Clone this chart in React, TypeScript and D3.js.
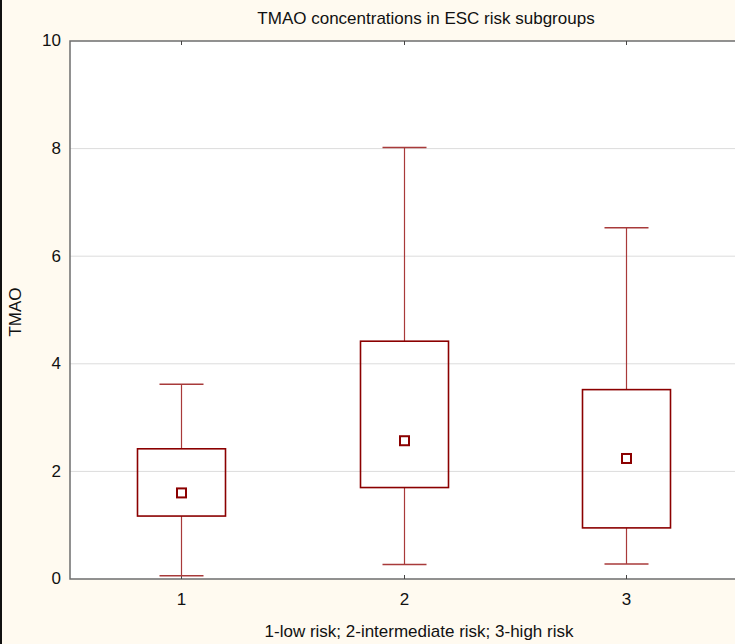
import { useEffect, useRef } from 'react'
import * as d3 from 'd3'

const groups = ['1', '2', '3']
const whiskerLow = [0.06, 0.27, 0.28]
const boxLow = [1.17, 1.7, 0.95]
const centre = [1.6, 2.57, 2.24]
const boxHigh = [2.42, 4.42, 3.52]
const whiskerHigh = [3.62, 8.02, 6.53]
const yTicks = [0, 2, 4, 6, 8, 10]

const W = 735
const H = 644
const FONT = "'Liberation Sans', Arial, sans-serif"
const FS = 17

export default function App() {
  const svgRef = useRef<SVGSVGElement>(null)

  useEffect(() => {
    const svg = d3.select(svgRef.current)
    svg.selectAll('*').remove()

    const left = 70
    const top = 41
    const bottom = 579
    const x = d3.scaleLinear().domain([0.5, 3.5]).range([left, 737.5])
    const y = d3.scaleLinear().domain([0, 10]).range([bottom, top])

    svg.append('rect').attr('width', W).attr('height', H).attr('fill', '#fffaf0')
    svg.append('rect').attr('width', 2).attr('height', H).attr('fill', '#111')
    svg.append('rect')
      .attr('x', left).attr('y', top)
      .attr('width', W - left).attr('height', bottom - top)
      .attr('fill', '#fff')

    // grid
    yTicks.filter((t) => t > 0 && t < 10).forEach((t) => {
      svg.append('line')
        .attr('x1', left).attr('x2', W)
        .attr('y1', y(t)).attr('y2', y(t))
        .attr('stroke', '#dcdcdc').attr('stroke-width', 1)
    })

    // axes frame
    svg.append('path')
      .attr('d', `M${W},${top}H${left}V${bottom}H${W}`)
      .attr('fill', 'none').attr('stroke', '#6e6e6e').attr('stroke-width', 1.5)

    const label = (t: string, px: number, py: number, anchor = 'middle') =>
      svg.append('text')
        .attr('x', px).attr('y', py)
        .attr('text-anchor', anchor).attr('dominant-baseline', 'middle')
        .attr('font-family', FONT).attr('font-size', FS).attr('fill', '#111')
        .text(t)

    yTicks.forEach((t) => label(String(t), left - 9, y(t) + 1, 'end'))

    groups.forEach((g, i) => {
      const cx = Math.round(x(i + 1)) + 0.5
      svg.append('line').attr('x1', cx).attr('x2', cx).attr('y1', bottom).attr('y2', bottom - 4)
        .attr('stroke', '#444').attr('stroke-width', 1)
      svg.append('line').attr('x1', cx).attr('x2', cx).attr('y1', top).attr('y2', top + 4)
        .attr('stroke', '#444').attr('stroke-width', 1)
      label(g, cx, 601)

      const wc = '#a83a3a'
      svg.append('line').attr('x1', cx).attr('x2', cx)
        .attr('y1', y(whiskerHigh[i])).attr('y2', y(boxHigh[i]))
        .attr('stroke', wc).attr('stroke-width', 1.2)
      svg.append('line').attr('x1', cx).attr('x2', cx)
        .attr('y1', y(boxLow[i])).attr('y2', y(whiskerLow[i]))
        .attr('stroke', wc).attr('stroke-width', 1.2)
      ;[whiskerHigh[i], whiskerLow[i]].forEach((v) => {
        svg.append('line').attr('x1', cx - 22).attr('x2', cx + 22)
          .attr('y1', y(v)).attr('y2', y(v))
          .attr('stroke', wc).attr('stroke-width', 1.5)
      })
      svg.append('rect')
        .attr('x', cx - 44).attr('y', y(boxHigh[i]))
        .attr('width', 88).attr('height', y(boxLow[i]) - y(boxHigh[i]))
        .attr('fill', 'none').attr('stroke', '#8b0000').attr('stroke-width', 1.6)
      svg.append('rect')
        .attr('x', cx - 4.5).attr('y', y(centre[i]) - 4.5)
        .attr('width', 9).attr('height', 9)
        .attr('fill', '#fff').attr('stroke', '#8b0000').attr('stroke-width', 2)
    })

    label('TMAO concentrations in ESC risk subgroups', 426, 20)
    label('1-low risk; 2-intermediate risk; 3-high risk', 419, 633)
    svg.append('text')
      .attr('transform', `translate(17,${(top + bottom) / 2 + 2}) rotate(-90)`)
      .attr('text-anchor', 'middle').attr('dominant-baseline', 'middle')
      .attr('font-family', FONT).attr('font-size', FS).attr('fill', '#111')
      .text('TMAO')
  }, [])

  return (
    <svg
      ref={svgRef}
      width={W}
      height={H}
      style={{ position: 'fixed', left: 0, top: 0, display: 'block' }}
    />
  )
}
